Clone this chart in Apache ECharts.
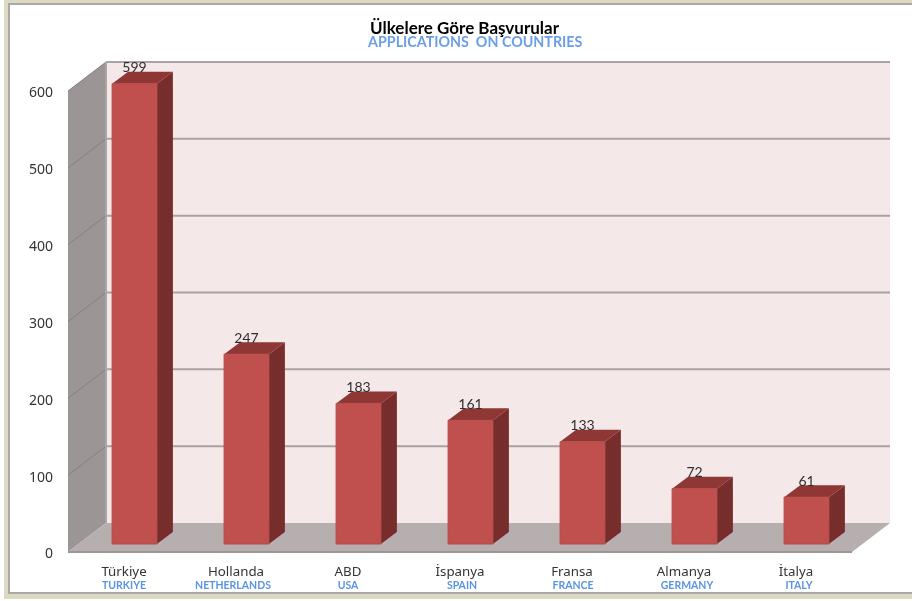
<!DOCTYPE html>
<html>
<head>
  <meta charset="utf-8" />
  <title>Ülkelere Göre Başvurular</title>
  <script src="https://cdn.jsdelivr.net/npm/echarts@6/dist/echarts.min.js"></script>
  <style>
    html, body { margin: 0; padding: 0; background: #fff; }
    #main { width: 912px; height: 601px; }
  </style>
</head>
<body>
<div id="main"></div>
<script type="text/javascript">
  var categories = ['Türkiye', 'Hollanda', 'ABD', 'İspanya', 'Fransa', 'Almanya', 'İtalya'];
  var categoriesEn = ['TURKIYE', 'NETHERLANDS', 'USA', 'SPAIN', 'FRANCE', 'GERMANY', 'ITALY'];
  var values = [599, 247, 183, 161, 133, 72, 61];
  var yTicks = [0, 100, 200, 300, 400, 500, 600];

  // pseudo 3d depth in pixels
  var WALL_DX = 38, WALL_DY = -29;
  var BAR_SHIFT_X = 10.5, BAR_SHIFT_Y = -8;
  var BAR_DX = 16, BAR_DY = -12;
  // english labels sit a little off centre in the original
  var EN_SHIFT = [0, -3, 0, 2, 1, 3, 3];

  function poly(points, fill, stroke, lineWidth) {
    return {
      type: 'polygon',
      shape: { points: points },
      style: { fill: fill, stroke: stroke || null, lineWidth: lineWidth || 0 }
    };
  }

  function line(x1, y1, x2, y2, color, width) {
    return {
      type: 'line',
      shape: { x1: x1, y1: y1, x2: x2, y2: y2 },
      style: { stroke: color, lineWidth: width }
    };
  }

  // walls, floor and gridlines
  function renderWalls(params, api) {
    var x0 = params.coordSys.x, x1 = x0 + params.coordSys.width;
    var y0 = api.coord([0, 0])[1];
    var yTop = api.coord([0, 600])[1];
    var kids = [
      poly([[x0 + WALL_DX, yTop + WALL_DY], [x1 + WALL_DX, yTop + WALL_DY], [x1 + WALL_DX, y0 + WALL_DY], [x0 + WALL_DX, y0 + WALL_DY]], '#f5e8e8'),
      poly([[x0, yTop], [x0 + WALL_DX, yTop + WALL_DY], [x0 + WALL_DX, y0 + WALL_DY], [x0, y0]], '#9b9595')
    ];
    yTicks.forEach(function (t) {
      var y = api.coord([0, t])[1];
      if (t > 0) {
        kids.push(line(x0 + WALL_DX, y + WALL_DY, x1 + WALL_DX, y + WALL_DY, '#a8a2a2', 2));
        kids.push(line(x0, y, x0 + WALL_DX, y + WALL_DY, '#858080', 1));
      }
    });
    kids.push(line(x0 + WALL_DX, yTop + WALL_DY, x0 + WALL_DX, y0 + WALL_DY, '#aaa5a5', 2));
    kids.push(poly([[x0, y0], [x1, y0], [x1 + WALL_DX, y0 + WALL_DY], [x0 + WALL_DX, y0 + WALL_DY]], '#b7afaf'));
    kids.push(line(x0, y0, x1, y0, '#9c9797', 2));
    return { type: 'group', children: kids };
  }

  function renderBar(params, api) {
    var top = api.coord([api.value(0), api.value(1)]);
    var base = api.coord([api.value(0), 0]);
    var w = api.size([1, 0])[0] * 0.4;
    var l = top[0] - w / 2 + BAR_SHIFT_X, r = l + w;
    var t = top[1] + BAR_SHIFT_Y, b = base[1] + BAR_SHIFT_Y;
    return {
      type: 'group',
      children: [
        poly([[r, t], [r + BAR_DX, t + BAR_DY], [r + BAR_DX, b + BAR_DY], [r, b]], '#772d2b'),
        poly([[l, t], [l + BAR_DX, t + BAR_DY], [r + BAR_DX, t + BAR_DY], [r, t]], '#8e3735'),
        poly([[l, t], [r, t], [r, b], [l, b]], '#c0504d', '#b84a47', 1),
        {
          type: 'text',
          style: {
            x: (l + r) / 2, y: t - 16,
            text: String(api.value(1)),
            fill: '#2f2f2f',
            font: '14px Lato',
            align: 'center',
            verticalAlign: 'middle'
          }
        }
      ]
    };
  }

  var richLabels = {
    a: { fontFamily: 'Noto Sans', fontSize: 13.3, color: '#333', lineHeight: 14 }
  };
  EN_SHIFT.forEach(function (s, i) {
    richLabels['b' + i] = {
      fontFamily: 'Lato', fontSize: 10.5, fontWeight: 'bold', color: '#5a94e6', lineHeight: 13,
      padding: s > 0 ? [0, 0, 0, s * 2] : [0, -s * 2, 0, 0]
    };
  });

  var myChart = echarts.init(document.getElementById('main'), null, { renderer: 'canvas' });
  var option = {
    animation: false,
    backgroundColor: '#fff',
    title: [
      {
        text: 'Ülkelere Göre Başvurular',
        left: 365, top: 15,
        textStyle: { fontFamily: 'Lato', fontSize: 17, fontWeight: 'bold', color: '#000' }
      },
      {
        text: 'APPLICATIONS  ON COUNTRIES',
        left: 363, top: 30,
        textStyle: { fontFamily: 'Lato', fontSize: 14.3, fontWeight: 'bold', color: '#6b9ee8' }
      }
    ],
    // frame round the picture
    graphic: [
      { type: 'rect', z: -10, shape: { x: 4, y: 0, width: 908, height: 599 }, style: { fill: '#ddd9c3' } },
      { type: 'rect', z: -9, shape: { x: 9, y: 4, width: 910, height: 589 }, style: { fill: '#fff', stroke: '#a9a9a9', lineWidth: 2 } }
    ],
    grid: { left: 68, top: 91, width: 784, height: 461 },
    xAxis: {
      type: 'category',
      data: categories,
      axisLine: { show: false },
      axisTick: { show: false },
      axisLabel: {
        interval: 0,
        margin: 13,
        formatter: function (v, i) {
          return '{a|' + v + '}\n{b' + i + '|' + categoriesEn[i] + '}';
        },
        rich: richLabels
      }
    },
    yAxis: {
      type: 'value',
      min: 0,
      max: 600,
      interval: 100,
      axisLine: { show: false },
      axisTick: { show: false },
      splitLine: { show: false },
      axisLabel: {
        margin: 15,
        formatter: '{v|{value}}',
        rich: { v: { fontFamily: 'Noto Sans', fontSize: 14, color: '#333', padding: [5, 0, 0, 0] } }
      }
    },
    series: [
      { type: 'custom', z: 1, silent: true, data: [[0, 0]], renderItem: renderWalls, clip: false },
      { type: 'custom', z: 2, data: values.map(function (v, i) { return [i, v]; }), encode: { x: 0, y: 1 }, renderItem: renderBar, clip: false }
    ]
  };
  myChart.setOption(option);
</script>
</body>
</html>
